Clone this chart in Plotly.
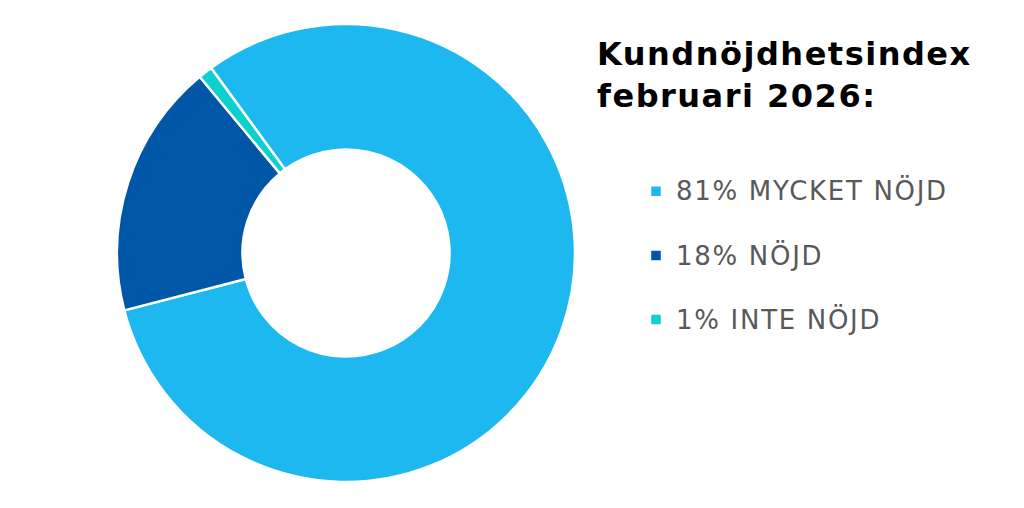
import plotly.graph_objects as go

categories = ["MYCKET NÖJD", "NÖJD", "INTE NÖJD"]
values = [81, 18, 1]
colors = ["#1EB8F0", "#0057A8", "#0CCFD0"]
title_lines = ["Kundnöjdhetsindex", "februari 2026:"]

W, H = 1016, 500  # page body has an 8px margin in the 1024x508 window

item_style = "font-size:26px;letter-spacing:1.7px"
labels = [f"<br><span style='{item_style}'>{v}% {c}</span>" for v, c in zip(values, categories)]

cx, cy, R = 338, 245, 229
fig = go.Figure(go.Pie(
    labels=labels,
    values=values,
    sort=False,
    direction="clockwise",
    rotation=-36.1,
    hole=0.452,
    textinfo="none",
    hoverinfo="skip",
    marker=dict(colors=colors, line=dict(color="white", width=2.5)),
    domain=dict(x=[(cx - R) / W, (cx + R) / W],
                y=[1 - (cy + R) / H, 1 - (cy - R) / H]),
))

title_style = "letter-spacing:1.5px"
fig.add_annotation(
    text="<br>".join(f"<b><span style='{title_style}'>{t}</span></b>" for t in title_lines),
    xref="paper", yref="paper", x=587 / W, y=1 - 25 / H,
    xanchor="left", yanchor="top", align="left", showarrow=False,
    font=dict(size=32, color="#000000", family="Verdana, DejaVu Sans, sans-serif"),
)

fig.update_layout(
    width=W, height=H,
    margin=dict(l=0, r=0, t=0, b=0, autoexpand=False),
    paper_bgcolor="white",
    font=dict(family="Verdana, DejaVu Sans, sans-serif"),
    showlegend=True,
    legend=dict(
        x=628 / W, y=1 - 131 / H, xanchor="left", yanchor="top",
        font=dict(size=23.5, color="#595959", family="Verdana, DejaVu Sans, sans-serif"),
        valign="bottom",
        itemclick=False, itemdoubleclick=False,
    ),
)

fig.write_html("out.html")
